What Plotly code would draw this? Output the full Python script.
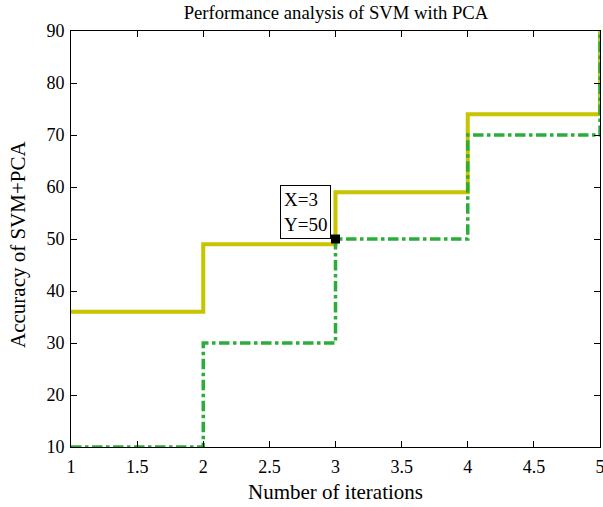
import plotly.graph_objects as go

iterations = [1, 2, 3, 4, 5]
svm_pca_a = [36, 49, 59, 74, 90]
svm_pca_b = [10, 30, 50, 70, 90]
tip_x = 3
tip_y = 50
x_ticks = [1, 1.5, 2, 2.5, 3, 3.5, 4, 4.5, 5]
y_ticks = [10, 20, 30, 40, 50, 60, 70, 80, 90]

font = "Liberation Serif"

fig = go.Figure()
fig.add_trace(go.Scatter(x=iterations, y=svm_pca_a, mode="lines", line_shape="hv",
                         line=dict(color="#c8c400", width=4), showlegend=False))
fig.add_trace(go.Scatter(x=iterations, y=svm_pca_b, mode="lines", line_shape="hv",
                         line=dict(color="#2bad3a", width=3.5, dash="dashdot"), showlegend=False))
fig.add_trace(go.Scatter(x=[tip_x], y=[tip_y], mode="markers",
                         marker=dict(symbol="square", size=9, color="black"),
                         showlegend=False, cliponaxis=False))
fig.add_annotation(x=tip_x, y=tip_y, text="X=3<br>Y=50", showarrow=False,
                   xanchor="right", yanchor="bottom", xshift=-5, yshift=0,
                   align="left", bordercolor="black", borderwidth=1, borderpad=3,
                   bgcolor="white", font=dict(family=font, size=19, color="black"))
# y-axis title placed as rotated text
fig.add_annotation(xref="paper", yref="paper", x=0, y=0.4856, xshift=-53,
                   xanchor="center", yanchor="middle", textangle=-90, showarrow=False,
                   text="Accuracy of SVM+PCA", font=dict(family=font, size=21, color="black"))

axis_common = dict(showline=True, linecolor="black", linewidth=1, mirror="allticks",
                   ticks="inside", ticklen=6, tickcolor="black", showgrid=False,
                   zeroline=False, ticklabeloverflow="allow",
                   tickfont=dict(family=font, size=18, color="black"))
fig.update_xaxes(range=[1, 5], tickvals=x_ticks, ticktext=[str(v) for v in x_ticks],
                 ticklabelstandoff=3, automargin=False,
                 title=dict(text="Number of iterations", font=dict(family=font, size=21, color="black"), standoff=8),
                 **axis_common)
fig.update_yaxes(range=[10, 90], tickvals=y_ticks, automargin=False, ticklabelstandoff=2,
                 **axis_common)
fig.update_layout(width=603, height=507, margin=dict(l=71, r=3, t=31, b=60, autoexpand=False),
                  plot_bgcolor="white", paper_bgcolor="white",
                  title=dict(text="Performance analysis of SVM with PCA", x=0.5572, xanchor="center",
                             yref="container", y=1 - 12 / 507, yanchor="middle",
                             font=dict(family=font, size=18.7, color="black")))
fig.write_html("out.html", config={"displayModeBar": False},
               post_script="document.body.style.margin='0';document.body.style.overflow='hidden';")
